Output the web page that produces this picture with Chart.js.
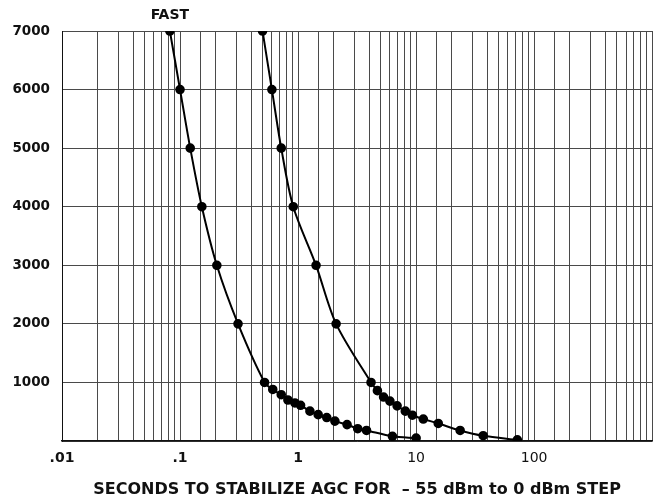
<!DOCTYPE html>
<html>
<head>
<meta charset="utf-8">
<script src="https://cdn.jsdelivr.net/npm/chart.js@4.4.1/dist/chart.umd.min.js"></script>
<style>
  html, body { margin: 0; padding: 0; background: #fff; }
  #c { display: block; }
</style>
</head>
<body>
<canvas id="c" width="658" height="504"></canvas>
<script>
// ---- data ----
const fastSeconds = [0.082, 0.10, 0.122, 0.153, 0.205, 0.31, 0.52, 0.61, 0.72, 0.82, 0.94, 1.05, 1.26, 1.48, 1.75, 2.05, 2.6, 3.2, 3.8, 6.3, 10];
const fastValues  = [7000, 6000, 5000, 4000, 3000, 2000, 1000, 880, 790, 700, 650, 610, 510, 450, 400, 340, 280, 210, 180, 80, 50];
const slowSeconds = [0.50, 0.60, 0.72, 0.91, 1.42, 2.1, 4.15, 4.7, 5.3, 6.0, 6.9, 8.1, 9.3, 11.5, 15.4, 23.6, 37, 72];
const slowValues  = [7000, 6000, 5000, 4000, 3000, 2000, 1000, 860, 750, 680, 600, 510, 440, 375, 300, 180, 90, 20];
const xLabelValues = [0.01, 0.1, 1, 10, 100];
const xTickLabels  = ['.01', '.1', '1', '10', '100'];
const yTickValues  = [1000, 2000, 3000, 4000, 5000, 6000, 7000];
const seriesLabels = ['FAST', 'SLOW'];
const xTitle = 'SECONDS TO STABILIZE AGC FOR  \u2013 55 dBm to 0 dBm STEP';

const FONT = 'DejaVu Sans';
const toPts = (xs, ys) => xs.map((x, i) => ({ x: x, y: ys[i] }));

function xLabelFor(v) {
  for (let i = 0; i < xLabelValues.length; i++) {
    if (Math.abs(Math.log10(v) - Math.log10(xLabelValues[i])) < 1e-6) return xTickLabels[i];
  }
  return '';
}

const fastLabelPlugin = {
  id: 'fastLabel',
  afterDatasetsDraw(chart) {
    const ctx = chart.ctx;
    const xs = chart.scales.x;
    const px = xs.getPixelForValue(fastSeconds[0]);
    ctx.save();
    ctx.font = 'bold 14px ' + FONT;
    ctx.fillStyle = '#111';
    ctx.textAlign = 'center';
    ctx.textBaseline = 'middle';
    ctx.fillText(seriesLabels[0], px, chart.chartArea.top - 16);
    ctx.restore();
  }
};

const gridColor = '#4a4a4a';

const lineStyle = {
  borderColor: '#000', backgroundColor: '#000',
  borderWidth: 2, pointRadius: 3.8, pointHoverRadius: 3.8, tension: 0.3
};

new Chart(document.getElementById('c'), {
  type: 'line',
  data: {
    datasets: [
      Object.assign({ label: seriesLabels[0], data: toPts(fastSeconds, fastValues) }, lineStyle),
      Object.assign({ label: seriesLabels[1], data: toPts(slowSeconds, slowValues) }, lineStyle)
    ]
  },
  options: {
    responsive: false,
    animation: false,
    layout: { padding: { top: 31, right: 5, left: 0, bottom: 0 } },
    plugins: { legend: { display: false }, tooltip: { enabled: false }, title: { display: false } },
    scales: {
      x: {
        type: 'logarithmic',
        min: 0.01, max: 1000,
        afterFit(scale) { scale.height = 63; scale.paddingRight = 0; scale.paddingLeft = 0; },
        grid: { color: gridColor, lineWidth: 1, drawTicks: false },
        border: { color: '#111', width: 1.5 },
        ticks: {
          autoSkip: false, maxRotation: 0, padding: 9, color: '#111',
          font: (c) => ({ family: FONT, size: 14, weight: (c.tick && c.tick.value >= 10) ? 'normal' : 'bold' }),
          callback: (v) => xLabelFor(v)
        },
        title: {
          display: true, text: xTitle, color: '#111',
          font: { family: FONT, size: 16, weight: 'bold' },
          padding: { top: 4, bottom: 5 }
        }
      },
      y: {
        min: 0, max: 7000,
        afterFit(scale) { scale.width = 62; scale.paddingTop = 0; scale.paddingBottom = 0; },
        afterBuildTicks(scale) { scale.ticks = [{ value: 0 }].concat(yTickValues.map(v => ({ value: v }))); },
        grid: { color: gridColor, lineWidth: 1, drawTicks: false },
        border: { color: '#111', width: 1 },
        ticks: {
          padding: 12, color: '#111',
          font: { family: FONT, size: 13.5, weight: 'bold' },
          callback: (v) => (v === 0 ? '' : String(v))
        }
      }
    }
  },
  plugins: [fastLabelPlugin]
});
</script>
</body>
</html>
